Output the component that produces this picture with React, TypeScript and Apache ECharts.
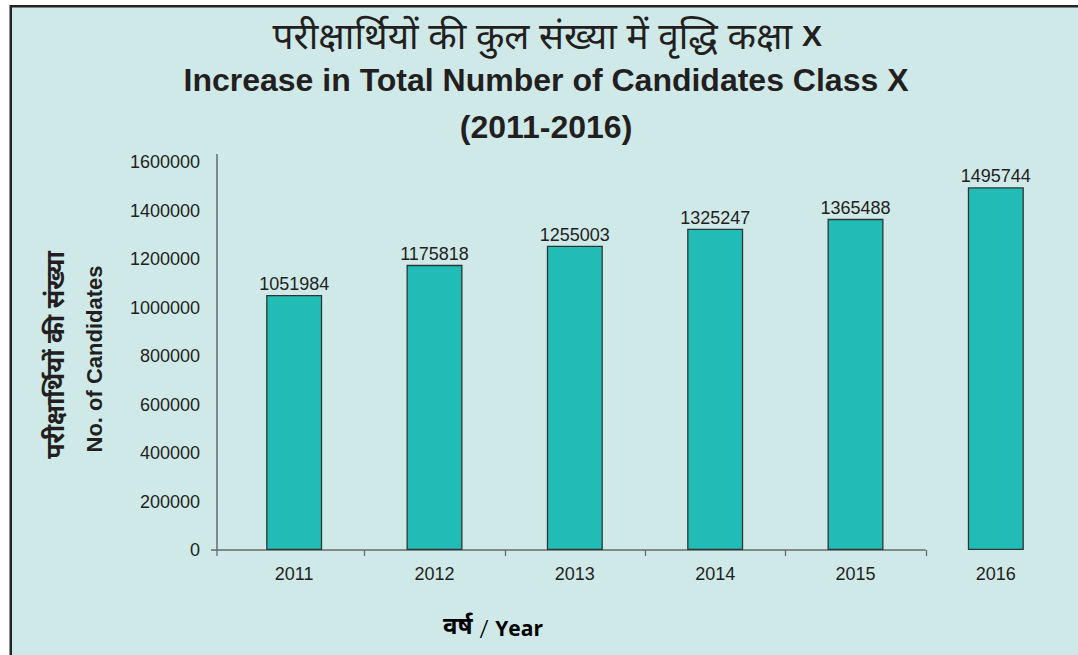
import React, { useEffect, useRef } from "react";
import * as echarts from "echarts";

const years = ["2011", "2012", "2013", "2014", "2015", "2016"];
const candidates = [1051984, 1175818, 1255003, 1325247, 1365488, 1495744];
const yInterval = 200000;
const yMax = 1633000;

const titleHindi = "परीक्षार्थियों की कुल संख्या में वृद्धि कक्षा";
const titleHindiSuffix = "X";
const titleEnglish = "Increase in Total Number of Candidates Class X";
const titleYears = "(2011-2016)";
const yNameHindi = "परीक्षार्थियों की संख्या";
const yNameEnglish = "No. of Candidates";
const xNameHindi = "वर्ष";
const xNameEnglish = "Year";

const BG = "#cfe9e8";
const BAR = "#21bcb5";
const TXT = "#231f20";
const AXIS = "#666a6a";
const LATIN = "'Liberation Sans', Arial, sans-serif";
const DEVA = "'Noto Sans Devanagari', 'Noto Sans', sans-serif";

export default function App() {
  const ref = useRef<HTMLDivElement>(null);
  useEffect(() => {
    document.body.style.margin = "0";
    const chart = echarts.init(ref.current!, null, { renderer: "svg" });
    const option: any = {
      animation: false,
      backgroundColor: "#ffffff",
      grid: { left: 224, right: 12, top: 154, bottom: 105 },
      xAxis: {
        type: "category",
        data: years,
        axisLine: { show: false },
        axisTick: { show: false },
        axisLabel: { margin: 15, fontSize: 18, color: TXT, fontFamily: LATIN },
      },
      yAxis: {
        type: "value",
        min: 0,
        max: yMax,
        interval: yInterval,
        axisLine: { show: false },
        axisTick: { show: false },
        splitLine: { show: false },
        axisLabel: {
          showMaxLabel: false,
          margin: 24,
          fontSize: 18,
          color: TXT,
          fontFamily: LATIN,
          formatter: (v: number) => String(v),
        },
      },
      series: [
        {
          type: "bar",
          data: candidates,
          barWidth: 56,
          itemStyle: { color: BAR, borderColor: "#2f3535", borderWidth: 1.3 },
          label: { show: true, position: "top", distance: 2, fontSize: 18, color: TXT, fontFamily: LATIN },
        },
      ],
    };
    chart.setOption(option);

    const c0 = chart.convertToPixel({ xAxisIndex: 0, yAxisIndex: 0 }, [0, 0]) as number[];
    const c1 = chart.convertToPixel({ xAxisIndex: 0, yAxisIndex: 0 }, [1, 0]) as number[];
    const w = c1[0] - c0[0];
    const y0 = c0[1];
    const axisX = 217;
    const topY = chart.convertToPixel({ yAxisIndex: 0 }, yMax) as number;
    const lastBoundary = c0[0] - w / 2 + w * (years.length - 1);
    const ticks: any[] = [];
    ticks.push({ type: "line", shape: { x1: axisX, y1: y0, x2: axisX, y2: y0 + 6 }, style: { stroke: AXIS, lineWidth: 1.3 } });
    for (let k = 1; k < years.length; k++) {
      const bx = Math.round(c0[0] - w / 2 + w * k) + 0.5;
      ticks.push({ type: "line", shape: { x1: bx, y1: y0, x2: bx, y2: y0 + 6 }, style: { stroke: AXIS, lineWidth: 1.3 } });
    }

    chart.setOption({
      graphic: [
        {
          type: "rect",
          z: -10,
          shape: { x: 10.75, y: 6.25, width: 1200, height: 800 },
          style: { fill: BG, stroke: "#232323", lineWidth: 2.5 },
        },
        { type: "line", shape: { x1: axisX, y1: topY, x2: axisX, y2: y0 }, style: { stroke: AXIS, lineWidth: 1.5 } },
        { type: "line", shape: { x1: axisX - 6, y1: y0, x2: lastBoundary, y2: y0 }, style: { stroke: AXIS, lineWidth: 1.3 } },
        ...ticks,
        {
          type: "text",
          x: 792,
          y: 40,
          style: { text: titleHindi, fontSize: 37, fontFamily: DEVA, fill: TXT, align: "right", verticalAlign: "middle" },
        },
        {
          type: "text",
          x: 802,
          y: 35,
          style: { text: titleHindiSuffix, fontSize: 30, fontWeight: "bold", fontFamily: LATIN, fill: TXT, align: "left", verticalAlign: "middle" },
        },
        {
          type: "text",
          x: 546,
          y: 80,
          style: { text: titleEnglish, fontSize: 32, fontWeight: "bold", fontFamily: LATIN, fill: TXT, align: "center", verticalAlign: "middle" },
        },
        {
          type: "text",
          x: 546,
          y: 127,
          style: { text: titleYears, fontSize: 32, fontWeight: "bold", fontFamily: LATIN, fill: TXT, align: "center", verticalAlign: "middle" },
        },
        {
          type: "text",
          x: 58,
          y: 355,
          rotation: Math.PI / 2,
          style: { text: yNameHindi, fontSize: 25, fontWeight: "bold", fontFamily: DEVA, fill: TXT, align: "center", verticalAlign: "middle" },
        },
        {
          type: "text",
          x: 94,
          y: 359,
          rotation: Math.PI / 2,
          style: { text: yNameEnglish, fontSize: 22, fontWeight: "bold", fontFamily: LATIN, fill: TXT, align: "center", verticalAlign: "middle" },
        },
        {
          type: "text",
          x: 493,
          y: 628,
          style: {
            text: "{h|" + xNameHindi + "}{s| / }{e|" + xNameEnglish + "}",
            align: "center",
            verticalAlign: "middle",
            rich: {
              h: { fontSize: 24, fontWeight: "bold", fontFamily: DEVA, color: TXT },
              s: { fontSize: 26, fontWeight: 300, fontFamily: "'Noto Sans', sans-serif", color: TXT },
              e: { fontSize: 21, fontWeight: "bold", fontFamily: "'Open Sans', sans-serif", color: TXT },
            },
          },
        },
      ],
    });
    return () => chart.dispose();
  }, []);
  return <div ref={ref} style={{ position: "fixed", left: 0, top: 0, width: 1078, height: 655 }} />;
}
